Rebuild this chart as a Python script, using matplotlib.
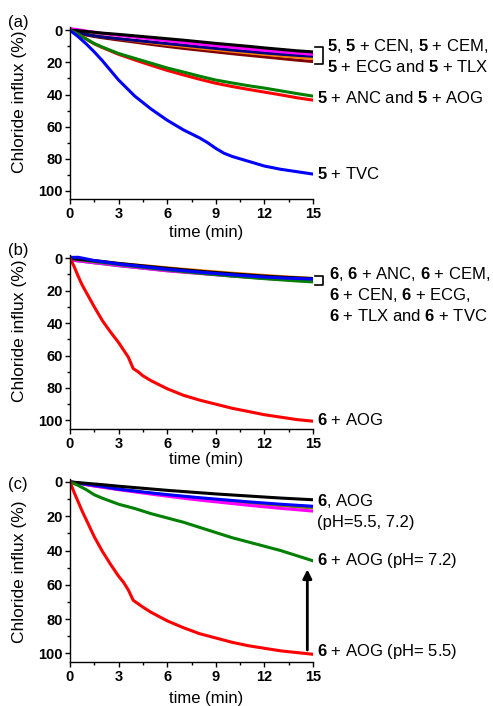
import matplotlib
matplotlib.use('Agg')
import matplotlib.pyplot as plt
from matplotlib.lines import Line2D
from matplotlib.ticker import MultipleLocator

plt.rcParams['font.family'] = ['Liberation Sans', 'DejaVu Sans']
plt.rcParams['mathtext.fontset'] = 'custom'
plt.rcParams['mathtext.rm'] = 'Liberation Sans'
plt.rcParams['mathtext.bf'] = 'Liberation Sans:bold'

W, H = 493, 706

# ---- panel (a): compound 5 ----
t_a = [0, 0.5, 1, 1.5, 2, 3, 4, 5, 6, 7, 8, 9, 10, 11, 12, 13, 14, 15]
a_black = [0, 0.3, 0.8, 1.3, 1.8, 2.6, 3.5, 4.4, 5.3, 6.2, 7.2, 8.2, 9.1, 10.0, 11.0, 11.9, 12.8, 13.5]
a_magenta = [-1, -0.3, 0.5, 1.3, 2.0, 3.2, 4.3, 5.4, 6.5, 7.6, 8.6, 9.6, 10.6, 11.6, 12.5, 13.4, 14.2, 15.0]
a_navy = [0, 1.5, 2.6, 3.5, 4.2, 5.3, 6.3, 7.3, 8.3, 9.3, 10.3, 11.3, 12.3, 13.2, 14.1, 14.9, 15.6, 16.2]
a_orange = [0, 1.2, 2.4, 3.3, 4.0, 5.3, 6.5, 7.7, 8.9, 10.0, 11.1, 12.1, 13.1, 14.1, 15.0, 15.9, 16.8, 17.6]
a_maroon = [0, 1.8, 3.0, 3.9, 4.7, 6.1, 7.4, 8.8, 10.1, 11.3, 12.4, 13.5, 14.6, 15.6, 16.6, 17.6, 18.6, 19.5]
a_green = [0, 2.5, 5.5, 8.3, 10.5, 14.5, 17.5, 20.5, 23.5, 26, 28.6, 31, 32.8, 34.5, 36, 37.7, 39.4, 41]
a_red = [0, 2.5, 5.5, 8.5, 10.8, 15, 18.5, 21.8, 25, 27.8, 30.5, 33, 35, 36.8, 38.5, 40.2, 42, 43.5]
t_tvc = [0, 0.5, 1, 1.5, 2, 3, 4, 5, 6, 7, 8, 8.5, 9, 9.5, 10, 11, 12, 13, 14, 15]
a_tvc = [0, 4, 8.5, 13.5, 19, 31, 41, 49, 56, 62, 67, 70, 73.5, 76.5, 78.5, 81.5, 84.5, 86.5, 88, 89.5]

# ---- panel (b): compound 6 ----
t_b = [0, 0.5, 1, 1.5, 2, 3, 4, 5, 6, 7, 8, 9, 10, 11, 12, 13, 14, 15]
b_teal = [1, 1.6, 2.2, 2.8, 3.4, 4.6, 5.6, 6.6, 7.6, 8.4, 9.2, 10.0, 10.8, 11.5, 12.2, 12.9, 13.5, 14.0]
b_orange = [0, 0.6, 1.1, 1.6, 2.1, 3.2, 4.1, 5.0, 5.9, 6.8, 7.6, 8.4, 9.2, 9.9, 10.6, 11.3, 11.9, 12.5]
b_magenta = [1, 1.6, 2.2, 2.8, 3.3, 4.5, 5.6, 6.7, 7.8, 8.6, 9.4, 10.2, 11.0, 11.7, 12.4, 13.0, 13.6, 14.2]
b_green = [0, 0.7, 1.4, 2.0, 2.6, 3.8, 5.0, 6.1, 7.2, 8.2, 9.2, 10.1, 11.0, 11.8, 12.6, 13.3, 14.0, 14.6]
b_black = [0, 0.5, 1.0, 1.5, 2.0, 3.2, 4.2, 5.2, 6.2, 7.1, 8.0, 8.8, 9.6, 10.3, 11.0, 11.6, 12.1, 12.5]
b_blue = [-0.5, -0.6, 0.4, 1.4, 2.1, 3.5, 4.6, 5.7, 6.8, 7.7, 8.6, 9.4, 10.2, 10.9, 11.6, 12.1, 12.5, 12.8]
t_aog = [0, 0.25, 0.5, 0.75, 1, 1.5, 2, 2.5, 3, 3.3, 3.6, 3.9, 4.2, 4.5, 5, 6, 7, 8, 9, 10, 11, 12, 13, 14, 15]
b_aog = [0, 5, 11, 16.5, 21, 30, 38.5, 45.5, 52, 56.5, 61, 68, 70, 72.5, 75.5, 80.5, 84.5, 87.5,
         90, 92.5, 94.5, 96.5, 98, 99.5, 100.5]

# ---- panel (c): pH dependence ----
t_c = [0, 0.5, 1, 1.5, 2, 3, 4, 5, 6, 7, 8, 9, 10, 11, 12, 13, 14, 15]
c_olive = [0, 0.8, 1.6, 2.3, 3.0, 4.3, 5.5, 6.6, 7.6, 8.6, 9.6, 10.5, 11.4, 12.2, 13.0, 13.8, 14.5, 15.2]
c_magenta = [0, 0.8, 1.6, 2.4, 3.1, 4.5, 5.8, 7.1, 8.3, 9.5, 10.6, 11.6, 12.6, 13.6, 14.5, 15.4, 16.2, 17.0]
c_blue = [0, 0.6, 1.3, 2.0, 2.7, 4.2, 5.3, 6.4, 7.4, 8.3, 9.2, 10.0, 10.8, 11.6, 12.3, 13.0, 13.6, 14.2]
c_black = [0, 0.4, 0.8, 1.2, 1.6, 2.5, 3.3, 4.1, 4.9, 5.6, 6.3, 7.0, 7.6, 8.2, 8.8, 9.4, 9.9, 10.4]
c_green = [0, 2, 4.5, 7.5, 9.5, 13, 15.5, 18.5, 21, 23.5, 26.5, 29.5, 32.5, 35, 37.5, 40, 43, 46]
c_red = [0, 6, 11.5, 17, 22, 32, 40.5, 48, 55, 58.5, 63, 69, 71, 73, 76, 81, 85, 88.5,
         91, 93.5, 95.5, 97, 98.5, 99.5, 100.5]

fig = plt.figure(figsize=(W / 100, H / 100), dpi=100)


def rect(top, bottom):
    return [70 / W, 1 - bottom / H, 243 / W, (bottom - top) / H]


def style(ax, xlab_y, ylab_y=0.565):
    ax.set_xlim(0, 15)
    ax.set_ylim(105, -2)
    for s in ['top', 'right']:
        ax.spines[s].set_visible(False)
    for s in ['left', 'bottom']:
        ax.spines[s].set_linewidth(1.0)
    ax.xaxis.set_major_locator(MultipleLocator(3))
    ax.xaxis.set_minor_locator(MultipleLocator(1.5))
    ax.yaxis.set_major_locator(MultipleLocator(20))
    ax.yaxis.set_minor_locator(MultipleLocator(10))
    ax.tick_params(which='major', direction='out', length=3.5, width=1)
    ax.tick_params(which='minor', direction='out', length=2, width=1)
    ax.tick_params(axis='x', pad=2.5)
    ax.tick_params(axis='y', pad=1.5)
    for lab in ax.get_xticklabels() + ax.get_yticklabels():
        lab.set_fontsize(10.5)
        lab.set_fontweight('bold')
    ax.set_ylabel('Chloride influx (%)', fontsize=12.5)
    ax.yaxis.set_label_coords(-0.177, ylab_y)
    ax.set_xlabel('time (min)', fontsize=12)
    ax.xaxis.label.set_va('center')
    ax.xaxis.set_label_coords(0.56, xlab_y)


def ftext(x, y, s, **kw):
    fig.text(x / W, 1 - y / H, s, fontsize=12, va='center', ha='left', **kw)


def bracket(x0, x1, y0, y1):
    fig.add_artist(Line2D([x0 / W, x1 / W, x1 / W, x0 / W],
                          [1 - y0 / H, 1 - y0 / H, 1 - y1 / H, 1 - y1 / H],
                          color='k', lw=1.2, transform=fig.transFigure))


lw = 2.2

# (a)
ax1 = fig.add_axes(rect(27, 199))
ax1.plot(t_a, a_maroon, color='#800000', lw=lw)
ax1.plot(t_a, a_orange, color='#ff8000', lw=lw)
ax1.plot(t_a, a_navy, color='#000080', lw=lw)
ax1.plot(t_a, a_magenta, color='#ff00ff', lw=lw)
ax1.plot(t_a, a_black, color='k', lw=lw)
ax1.plot(t_a, a_red, color='#ff0000', lw=lw)
ax1.plot(t_a, a_green, color='#008000', lw=lw)
ax1.plot(t_tvc, a_tvc, color='#0000ff', lw=lw)
style(ax1, -0.197)
ftext(8, 22, '(a)')
bracket(315, 322.5, 46.5, 64)
ftext(327, 46, r'$\mathbf{5}$, $\mathbf{5}$ + CEN, $\mathbf{5}$ + CEM,')
ftext(327, 67.5, r'$\mathbf{5}$ + ECG and $\mathbf{5}$ + TLX')
ftext(317, 98, r'$\mathbf{5}$ + ANC and $\mathbf{5}$ + AOG')
ftext(317, 174, r'$\mathbf{5}$ + TVC')

# (b)
ax2 = fig.add_axes(rect(255, 428.5))
ax2.plot(t_b, b_teal, color='#008080', lw=lw)
ax2.plot(t_b, b_orange, color='#ff8000', lw=lw)
ax2.plot(t_b, b_magenta, color='#ff00ff', lw=lw)
ax2.plot(t_b, b_green, color='#008000', lw=lw)
ax2.plot(t_b, b_black, color='k', lw=lw)
ax2.plot(t_b, b_blue, color='#0000ff', lw=lw)
ax2.plot(t_aog, b_aog, color='#ff0000', lw=lw)
style(ax2, -0.176)
ftext(8, 251, '(b)')
bracket(315, 322.5, 276, 285)
ftext(329, 274, r'$\mathbf{6}$, $\mathbf{6}$ + ANC, $\mathbf{6}$ + CEM,')
ftext(329, 295.5, r'$\mathbf{6}$ + CEN, $\mathbf{6}$ + ECG,')
ftext(329, 316, r'$\mathbf{6}$ + TLX and $\mathbf{6}$ + TVC')
ftext(317, 420, r'$\mathbf{6}$ + AOG')

# (c)
ax3 = fig.add_axes(rect(478.5, 662))
ax3.plot(t_c, c_olive, color='#808000', lw=lw)
ax3.plot(t_c, c_magenta, color='#ff00ff', lw=lw)
ax3.plot(t_c, c_blue, color='#0000ff', lw=lw)
ax3.plot(t_c, c_black, color='k', lw=lw)
ax3.plot(t_c, c_green, color='#008000', lw=lw)
ax3.plot(t_aog, c_red, color='#ff0000', lw=lw)
ax3.annotate('', xy=(14.65, 51), xytext=(14.65, 98),
             arrowprops=dict(arrowstyle='-|>', lw=2, color='k', mutation_scale=13,
                             shrinkA=0, shrinkB=0))
style(ax3, -0.2, ylab_y=0.49)
ftext(8, 485, '(c)')
ftext(317, 501.5, r'$\mathbf{6}$, AOG')
ftext(317, 523, '(pH=5.5, 7.2)')
ftext(317, 561, r'$\mathbf{6}$ + AOG (pH= 7.2)')
ftext(317, 651.5, r'$\mathbf{6}$ + AOG (pH= 5.5)')

fig.savefig('out.png', dpi=100)
